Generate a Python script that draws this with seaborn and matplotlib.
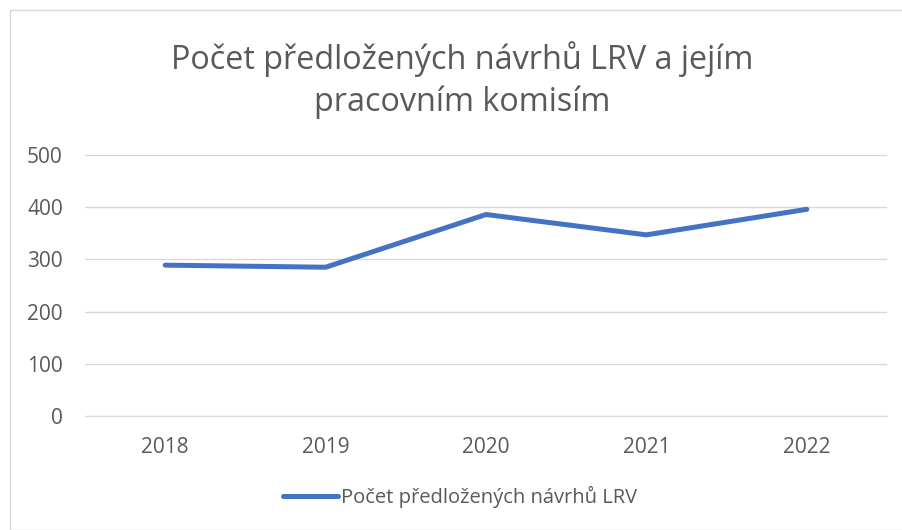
import pandas as pd
import seaborn as sns
import matplotlib.pyplot as plt

YEARS = ['2018', '2019', '2020', '2021', '2022']
COUNTS = [289, 285, 386, 347, 396]
SERIES = 'Počet předložených návrhů LRV'
TITLE = 'Počet předložených návrhů LRV a jejím\npracovním komisím'

df = pd.DataFrame({'rok': YEARS, 'pocet': COUNTS})

sns.set_style('white')
plt.rcParams['font.family'] = ['Open Sans', 'DejaVu Sans']

fig = plt.figure(figsize=(9.03, 5.30), dpi=100)
ax = fig.add_axes([85 / 903, 114 / 530, 802 / 903, 261 / 530])

sns.lineplot(data=df, x='rok', y='pocet', ax=ax, color='#4472C4',
             linewidth=3.6, label=SERIES, solid_capstyle='round')

ax.set_xlim(-0.5, 4.5)
ax.set_ylim(0, 500)
ax.set_yticks([0, 100, 200, 300, 400, 500])
ax.yaxis.grid(True, color='#d9d9d9', linewidth=1)
ax.set_axisbelow(True)
for s in ['top', 'right', 'left']:
    ax.spines[s].set_visible(False)
ax.spines['bottom'].set_color('#d9d9d9')
ax.tick_params(axis='both', length=0, labelsize=15, colors='#595959')
ax.tick_params(axis='x', pad=15)
ax.tick_params(axis='y', pad=16)
ax.set_xlabel('')
ax.set_ylabel('')

fig.suptitle(TITLE, x=462 / 903, y=1 - 41 / 530, fontsize=23.3,
             color='#595959', va='top', linespacing=1.33)

ax.legend(loc='center', bbox_to_anchor=(460 / 903, 1 - 497 / 530),
          bbox_transform=fig.transFigure, frameon=False, fontsize=14.5,
          labelcolor='#595959', handlelength=2.7, handletextpad=0.15)

# outer border
fig.patches.append(plt.Rectangle((10 / 903, 0), 1, 1 - 10 / 530,
                                 transform=fig.transFigure, fill=False,
                                 edgecolor='#d9d9d9', linewidth=1))

fig.savefig('out.png', dpi=100)
